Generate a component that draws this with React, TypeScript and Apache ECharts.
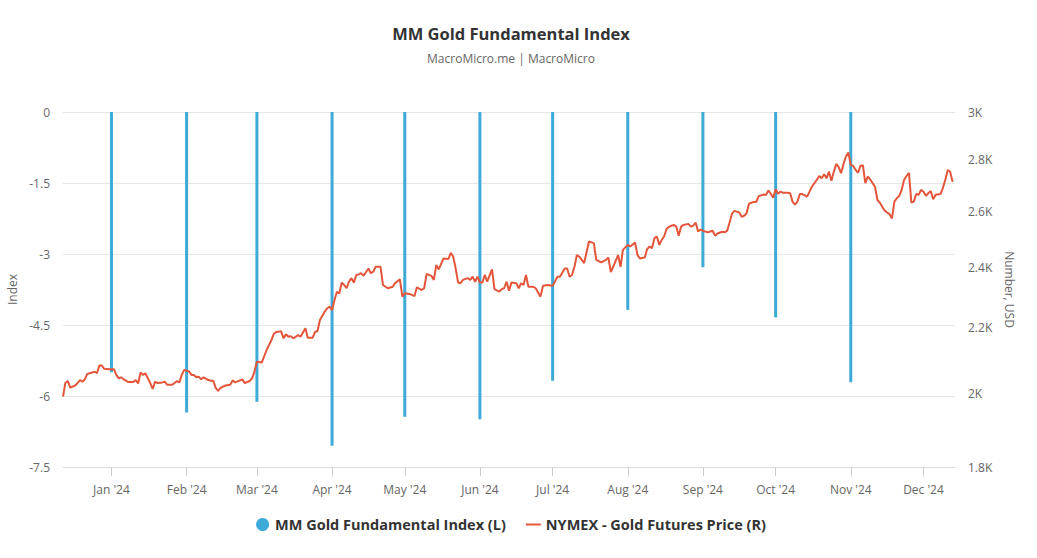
import React, { useEffect, useRef } from "react";
import * as echarts from "echarts";

const chartTitle = "MM Gold Fundamental Index";
const chartSubtitle = "MacroMicro.me | MacroMicro";
const indexName = "MM Gold Fundamental Index (L)";
const goldName = "NYMEX - Gold Futures Price (R)";

const indexDates = [
  "2024-01-01", "2024-02-01", "2024-03-01", "2024-04-01", "2024-05-01", "2024-06-01",
  "2024-07-01", "2024-08-01", "2024-09-01", "2024-10-01", "2024-11-01",
];
const indexValues = [-5.5, -6.35, -6.12, -7.05, -6.44, -6.49, -5.68, -4.18, -3.28, -4.34, -5.71];

const goldDates = [
  "2023-12-12", "2023-12-13", "2023-12-14", "2023-12-15", "2023-12-17", "2023-12-18", "2023-12-19", "2023-12-20",
  "2023-12-21", "2023-12-22", "2023-12-24", "2023-12-25", "2023-12-26", "2023-12-27", "2023-12-28", "2023-12-29",
  "2023-12-31",
  "2024-01-02", "2024-01-03", "2024-01-04", "2024-01-05", "2024-01-06", "2024-01-08", "2024-01-10", "2024-01-11",
  "2024-01-12", "2024-01-13", "2024-01-14", "2024-01-15", "2024-01-16", "2024-01-17", "2024-01-18", "2024-01-19",
  "2024-01-20", "2024-01-22", "2024-01-23", "2024-01-24", "2024-01-26", "2024-01-27", "2024-01-28", "2024-01-29",
  "2024-01-30", "2024-01-31",
  "2024-02-02", "2024-02-03", "2024-02-04", "2024-02-05", "2024-02-06", "2024-02-07", "2024-02-08", "2024-02-10",
  "2024-02-11", "2024-02-12", "2024-02-13", "2024-02-14", "2024-02-15", "2024-02-17", "2024-02-19", "2024-02-20",
  "2024-02-21", "2024-02-23", "2024-02-24", "2024-02-25", "2024-02-27", "2024-02-28", "2024-02-29",
  "2024-03-01", "2024-03-03", "2024-03-04", "2024-03-05", "2024-03-06", "2024-03-07", "2024-03-08", "2024-03-09",
  "2024-03-11", "2024-03-12", "2024-03-13", "2024-03-14", "2024-03-15", "2024-03-16", "2024-03-18", "2024-03-19",
  "2024-03-21", "2024-03-22", "2024-03-24", "2024-03-25", "2024-03-26", "2024-03-27", "2024-03-29", "2024-03-30",
  "2024-03-31",
  "2024-04-01", "2024-04-02", "2024-04-03", "2024-04-04", "2024-04-05", "2024-04-06", "2024-04-07", "2024-04-08",
  "2024-04-09", "2024-04-10", "2024-04-11", "2024-04-12", "2024-04-13", "2024-04-14", "2024-04-16", "2024-04-17",
  "2024-04-18", "2024-04-19", "2024-04-21", "2024-04-22", "2024-04-24", "2024-04-26", "2024-04-27", "2024-04-29",
  "2024-04-30",
  "2024-05-01", "2024-05-03", "2024-05-05", "2024-05-06", "2024-05-08", "2024-05-09", "2024-05-10", "2024-05-12",
  "2024-05-13", "2024-05-14", "2024-05-15", "2024-05-17", "2024-05-19", "2024-05-20", "2024-05-21", "2024-05-22",
  "2024-05-23", "2024-05-24", "2024-05-25", "2024-05-27", "2024-05-28", "2024-05-29", "2024-05-30", "2024-05-31",
  "2024-06-01", "2024-06-02", "2024-06-03", "2024-06-04", "2024-06-06", "2024-06-07", "2024-06-09", "2024-06-10",
  "2024-06-11", "2024-06-12", "2024-06-13", "2024-06-14", "2024-06-16", "2024-06-17", "2024-06-18", "2024-06-19",
  "2024-06-20", "2024-06-21", "2024-06-23", "2024-06-24", "2024-06-26", "2024-06-27", "2024-06-29",
  "2024-07-01", "2024-07-03", "2024-07-04", "2024-07-06", "2024-07-07", "2024-07-08", "2024-07-09", "2024-07-10",
  "2024-07-11", "2024-07-12", "2024-07-14", "2024-07-16", "2024-07-18", "2024-07-19", "2024-07-21", "2024-07-23",
  "2024-07-24", "2024-07-25", "2024-07-26", "2024-07-28", "2024-07-29", "2024-07-30",
  "2024-08-01", "2024-08-02", "2024-08-04", "2024-08-05", "2024-08-06", "2024-08-08", "2024-08-09", "2024-08-10",
  "2024-08-11", "2024-08-12", "2024-08-13", "2024-08-14", "2024-08-15", "2024-08-16", "2024-08-17", "2024-08-18",
  "2024-08-19", "2024-08-20", "2024-08-21", "2024-08-22", "2024-08-23", "2024-08-24", "2024-08-26", "2024-08-27",
  "2024-08-28", "2024-08-29", "2024-08-30", "2024-08-31",
  "2024-09-01", "2024-09-03", "2024-09-04", "2024-09-05", "2024-09-06", "2024-09-07", "2024-09-09", "2024-09-10",
  "2024-09-11", "2024-09-12", "2024-09-13", "2024-09-14", "2024-09-16", "2024-09-17", "2024-09-18", "2024-09-19",
  "2024-09-20", "2024-09-22", "2024-09-23", "2024-09-24", "2024-09-26", "2024-09-27", "2024-09-28", "2024-09-29",
  "2024-09-30",
  "2024-10-01", "2024-10-02", "2024-10-03", "2024-10-04", "2024-10-06", "2024-10-07", "2024-10-08", "2024-10-09",
  "2024-10-10", "2024-10-11", "2024-10-12", "2024-10-14", "2024-10-15", "2024-10-16", "2024-10-18", "2024-10-19",
  "2024-10-20", "2024-10-21", "2024-10-22", "2024-10-23", "2024-10-24", "2024-10-25", "2024-10-26", "2024-10-27",
  "2024-10-28", "2024-10-29", "2024-10-30", "2024-10-31",
  "2024-11-01", "2024-11-02", "2024-11-03", "2024-11-04", "2024-11-05", "2024-11-06", "2024-11-07", "2024-11-08",
  "2024-11-09", "2024-11-10", "2024-11-11", "2024-11-12", "2024-11-13", "2024-11-14", "2024-11-15", "2024-11-16",
  "2024-11-17", "2024-11-18", "2024-11-19", "2024-11-20", "2024-11-21", "2024-11-22", "2024-11-23", "2024-11-24",
  "2024-11-25", "2024-11-26", "2024-11-27", "2024-11-28", "2024-11-29", "2024-11-30",
  "2024-12-01", "2024-12-02", "2024-12-03", "2024-12-04", "2024-12-05", "2024-12-06", "2024-12-08", "2024-12-09",
  "2024-12-10", "2024-12-11", "2024-12-12", "2024-12-13",
];

const goldPrices = [
  1992, 2032, 2037, 2018, 2024, 2031, 2040, 2035,
  2042, 2058, 2062, 2065, 2060, 2083, 2083, 2073,
  2072,
  2072, 2055, 2045, 2048, 2042, 2034, 2034, 2040,
  2030, 2062, 2055, 2060, 2045, 2031, 2014, 2035,
  2031, 2033, 2035, 2026, 2026, 2031, 2037, 2033,
  2055, 2070,
  2065, 2055, 2055, 2048, 2050, 2042, 2048, 2040,
  2038, 2038, 2017, 2008, 2017, 2024, 2026, 2039,
  2033, 2039, 2042, 2031, 2037, 2045, 2065,
  2094, 2092, 2111, 2130, 2145, 2161, 2181, 2186,
  2188, 2166, 2179, 2171, 2173, 2166, 2176, 2171,
  2198, 2168, 2168, 2186, 2189, 2224, 2251, 2262,
  2267,
  2256, 2289, 2316, 2311, 2347, 2339, 2328, 2350,
  2362, 2347, 2373, 2375, 2379, 2370, 2395, 2379,
  2384, 2401, 2401, 2339, 2328, 2333, 2345, 2358,
  2300,
  2311, 2309, 2302, 2331, 2322, 2328, 2376, 2370,
  2356, 2407, 2392, 2430, 2428, 2450, 2436, 2395,
  2347, 2345, 2356, 2362, 2356, 2367, 2350, 2367,
  2347, 2347, 2373, 2350, 2392, 2325, 2317, 2325,
  2328, 2350, 2320, 2347, 2345, 2328, 2345, 2339,
  2373, 2333, 2333, 2328, 2300, 2336, 2339,
  2336, 2367, 2367, 2395, 2395, 2367, 2373, 2401,
  2442, 2436, 2414, 2490, 2484, 2425, 2416, 2425,
  2433, 2383, 2401, 2442, 2401, 2460,
  2478, 2472, 2486, 2442, 2430, 2433, 2463, 2472,
  2466, 2502, 2508, 2478, 2496, 2508, 2535, 2543,
  2547, 2550, 2544, 2511, 2544, 2550, 2554, 2544,
  2547, 2559, 2526, 2533,
  2529, 2523, 2526, 2529, 2511, 2519, 2525, 2523,
  2529, 2559, 2592, 2602, 2596, 2580, 2584, 2592,
  2629, 2636, 2636, 2658, 2664, 2662, 2680, 2667,
  2652,
  2684, 2667, 2675, 2671, 2671, 2669, 2636, 2626,
  2637, 2666, 2666, 2656, 2675, 2695, 2721, 2736,
  2727, 2743, 2727, 2753, 2717, 2753, 2784, 2771,
  2747, 2784, 2814, 2830,
  2780, 2776, 2760, 2749, 2776, 2779, 2708, 2734,
  2723, 2708, 2694, 2643, 2633, 2618, 2603, 2596,
  2590, 2574, 2637, 2650, 2659, 2682, 2721, 2736,
  2749, 2633, 2637, 2666, 2663, 2682,
  2675, 2659, 2669, 2678, 2646, 2663, 2666, 2689,
  2721, 2760, 2753, 2713,
];

const axisStart = "2023-12-12";
const axisEnd = "2024-12-14";
const monthTicks = [
  "2024-01-01", "2024-02-01", "2024-03-01", "2024-04-01", "2024-05-01", "2024-06-01",
  "2024-07-01", "2024-08-01", "2024-09-01", "2024-10-01", "2024-11-01", "2024-12-01",
];
const monthLabels = [
  "Jan '24", "Feb '24", "Mar '24", "Apr '24", "May '24", "Jun '24",
  "Jul '24", "Aug '24", "Sep '24", "Oct '24", "Nov '24", "Dec '24",
];
const priceTicks = [1800, 2000, 2200, 2400, 2600, 2800, 3000];
const priceTickLabels = ["1.8K", "2K", "2.2K", "2.4K", "2.6K", "2.8K", "3K"];

const FONT = "'Open Sans', 'Noto Sans', sans-serif";

const ts = (d: string) => echarts.number.parseDate(d).getTime();

function nearestIndex(list: number[], v: number) {
  let best = 0;
  let bestD = Infinity;
  list.forEach((t, i) => {
    const d = Math.abs(t - v);
    if (d < bestD) {
      bestD = d;
      best = i;
    }
  });
  return best;
}

export default function App() {
  const ref = useRef<HTMLDivElement>(null);

  useEffect(() => {
    if (!ref.current) return;
    const chart = echarts.init(ref.current, undefined, { renderer: "svg" });

    const monthStamps = monthTicks.map(ts);
    const logTicks = priceTicks.map((p) => Math.log10(p));

    const option: any = {
      animation: false,
      textStyle: { fontFamily: FONT },
      title: {
        text: chartTitle,
        subtext: chartSubtitle,
        left: 506,
        textAlign: "center",
        top: 20,
        itemGap: 10,
        textStyle: { fontSize: 16.5, fontWeight: "bold", color: "#333", fontFamily: FONT },
        subtextStyle: { fontSize: 12, color: "#666", fontFamily: FONT },
      },
      legend: {
        left: "center",
        top: 512,
        itemWidth: 15,
        itemHeight: 13,
        itemGap: 20,
        symbolKeepAspect: true,
        textStyle: { fontSize: 14.5, fontWeight: "bold", color: "#333", fontFamily: FONT },
        data: [
          { name: indexName, icon: "circle" },
          { name: goldName, icon: "path://M0,0h15v2h-15z" },
        ],
      },
      grid: { left: 63, right: 67, top: 112, bottom: 91, outerBoundsMode: "none", containLabel: false },
      xAxis: {
        type: "value",
        min: ts(axisStart),
        max: ts(axisEnd),
        axisLine: { show: true, onZero: false, lineStyle: { color: "#dcdcdc" } },
        axisTick: {
          show: true,
          length: 9,
          customValues: monthStamps,
          lineStyle: { color: "#cccccc" },
        },
        axisLabel: {
          customValues: monthStamps,
          margin: 16,
          fontSize: 12,
          color: "#666",
          fontFamily: FONT,
          formatter: (v: number) => monthLabels[nearestIndex(monthStamps, v)],
        },
        splitLine: { show: false },
      },
      yAxis: [
        {
          type: "value",
          min: -7.5,
          max: 0,
          interval: 1.5,
          name: "Index",
          nameLocation: "middle",
          nameGap: 35,
          nameRotate: 90,
          nameTextStyle: { fontSize: 12, color: "#666", fontFamily: FONT },
          axisLine: { show: false },
          axisTick: { show: false },
          axisLabel: { margin: 13, fontSize: 12, color: "#666", fontFamily: FONT },
          splitLine: { show: true, lineStyle: { color: "#e6e6e6", width: 1 } },
        },
        {
          type: "value",
          min: Math.log10(1800),
          max: Math.log10(3000),
          name: "Number, USD",
          nameLocation: "middle",
          nameGap: 46,
          nameRotate: -90,
          nameTextStyle: { fontSize: 12, color: "#666", fontFamily: FONT },
          axisLine: { show: false },
          axisTick: { show: false },
          axisLabel: {
            margin: 13,
            fontSize: 12,
            color: "#666",
            fontFamily: FONT,
            customValues: logTicks,
            formatter: (v: number) => priceTickLabels[nearestIndex(logTicks, v)],
          },
          splitLine: { show: false },
        },
      ],
      series: [
        {
          name: indexName,
          type: "bar",
          yAxisIndex: 0,
          barWidth: 3,
          itemStyle: { color: "#3eaad8" },
          data: indexDates.map((d, i) => [ts(d), indexValues[i]]),
        },
        {
          name: goldName,
          type: "line",
          yAxisIndex: 1,
          symbol: "none",
          showSymbol: false,
          lineStyle: { color: "#e4563c", width: 2 },
          itemStyle: { color: "#e4563c" },
          data: goldDates.map((d, i) => [ts(d), Math.log10(goldPrices[i])]),
        },
      ],
    };

    chart.setOption(option);
    return () => chart.dispose();
  }, []);

  return (
    <div
      ref={ref}
      style={{ position: "absolute", left: 0, top: 0, width: 1022, height: 558, background: "#fff" }}
    />
  );
}
